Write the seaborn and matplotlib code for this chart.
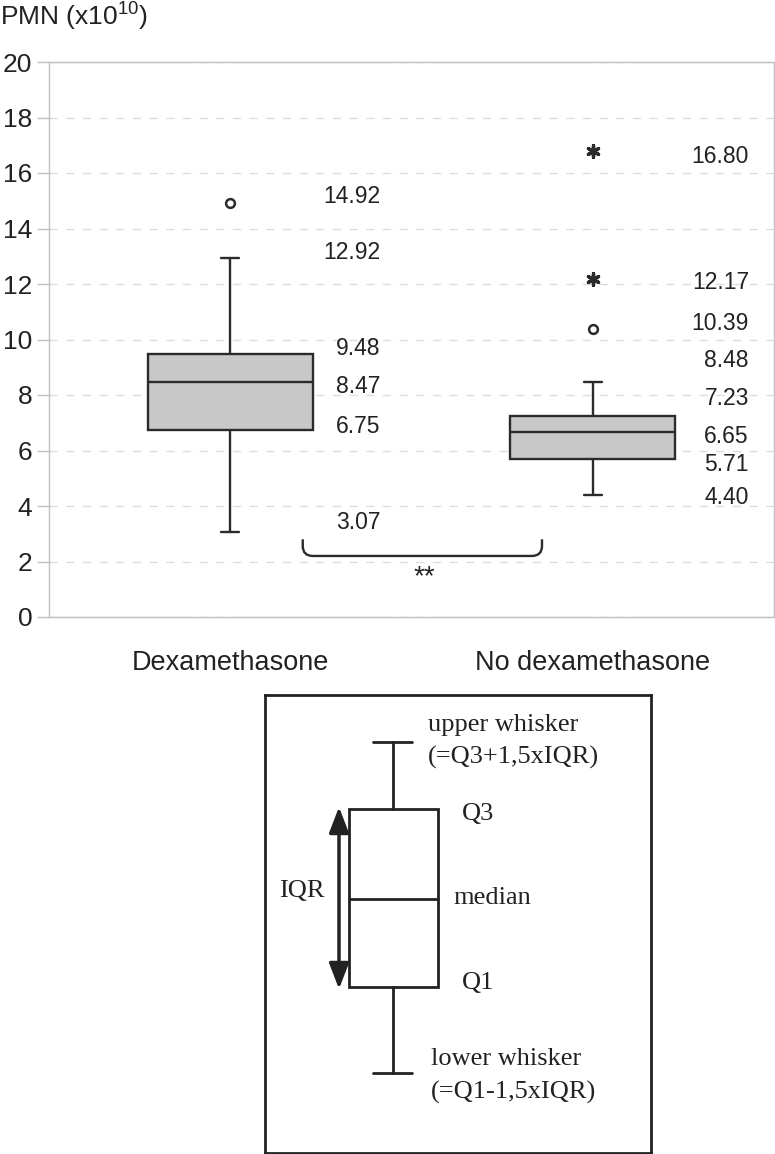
import matplotlib
matplotlib.use('Agg')
import numpy as np
import pandas as pd
import seaborn as sns
from matplotlib import pyplot as plt
from matplotlib.path import Path
from matplotlib.patches import PathPatch, Rectangle

# five-number summaries (whisker low, Q1, median, Q3, whisker high)
categories = ['Dexamethasone', 'No dexamethasone']
dex_summary = [3.07, 6.75, 8.47, 9.48, 12.92]
nodex_summary = [4.40, 5.71, 6.65, 7.23, 8.48]

# outliers (circles) and extremes (stars)
outlier_groups = ['Dexamethasone', 'No dexamethasone']
outlier_values = [14.92, 10.39]
extreme_groups = ['No dexamethasone', 'No dexamethasone']
extreme_values = [12.17, 16.80]

# value labels written beside each box, with the height where they sit
dex_labels = ['14.92', '12.92', '9.48', '8.47', '6.75', '3.07']
dex_label_y = [15.17, 13.12, 9.69, 8.32, 6.88, 3.39]
nodex_labels = ['16.80', '12.17', '10.39', '8.48', '7.23', '6.65', '5.71', '4.40']
nodex_label_y = [16.58, 12.07, 10.56, 9.26, 7.86, 6.52, 5.48, 4.29]

y_ticks = list(range(0, 21, 2))

sns.set_theme(style='white')
plt.rcParams['font.family'] = ['Liberation Sans', 'DejaVu Sans']
plt.rcParams['mathtext.fontset'] = 'custom'
plt.rcParams['mathtext.rm'] = 'Liberation Sans'

fig = plt.figure(figsize=(7.75, 11.54), dpi=100)
W, H = 775, 1154
ax = fig.add_axes([49 / W, 1 - 617 / H, 725 / W, 555 / H])

df = pd.DataFrame({
    'group': [categories[0]] * len(dex_summary) + [categories[1]] * len(nodex_summary),
    'value': dex_summary + nodex_summary,
})
sns.boxplot(data=df, x='group', y='value', order=categories, whis=(0, 100),
            width=0.455, color='#c8c8c8', saturation=1, linecolor='#2b2b2b',
            linewidth=1.7, showfliers=False, capwidths=0.05, ax=ax)

sns.scatterplot(x=[categories.index(g) for g in outlier_groups], y=outlier_values,
                marker='o', s=40, facecolor='white', edgecolor='#2b2b2b',
                linewidth=1.8, ax=ax, zorder=5)
sns.scatterplot(x=[categories.index(g) for g in extreme_groups], y=extreme_values,
                marker=(6, 2, 0), s=70, color='#2b2b2b', linewidth=2.4,
                ax=ax, zorder=5)

for txt, yy in zip(dex_labels, dex_label_y):
    ax.text(0.415, yy, txt, ha='right', va='center', fontsize=16.5, color='#222222')
for txt, yy in zip(nodex_labels, nodex_label_y):
    ax.text(1.431, yy, txt, ha='right', va='center', fontsize=16.5, color='#222222')

# significance bracket
bx0, bx1, btop, bbot = 0.2, 0.86, 2.8, 2.2
verts = [(bx0, btop), (bx0, bbot + 0.36), (bx0, bbot), (bx0 + 0.028, bbot),
         (bx1 - 0.028, bbot), (bx1, bbot), (bx1, bbot + 0.36), (bx1, btop)]
codes = [Path.MOVETO, Path.LINETO, Path.CURVE3, Path.CURVE3,
         Path.LINETO, Path.CURVE3, Path.CURVE3, Path.LINETO]
ax.add_patch(PathPatch(Path(verts, codes), fill=False, edgecolor='#2b2b2b', lw=1.7))
ax.text(0.536, 1.45, '**', ha='center', va='center', fontsize=20, color='#222222')

ax.set_xlim(-0.5, 1.5)
ax.set_ylim(0, 20)
ax.set_yticks(y_ticks)
ax.set_xlabel('')
ax.set_ylabel('')
ax.set_xticks([0, 1])
ax.set_xticklabels(categories, fontsize=19.5, color='#222222')
ax.set_xticks([-0.5, 0.5, 1.5], minor=True)
ax.tick_params(axis='x', which='major', length=0, pad=24)
ax.tick_params(axis='x', which='minor', length=10, width=1, color='#bfbfbf', direction='out')
ax.tick_params(axis='y', length=9, width=1, color='#bfbfbf', direction='out',
               labelsize=19, labelcolor='#222222', pad=3, left=True)
ax.yaxis.grid(True, linestyle=(0, (6, 6)), color='#dddddd', lw=1)
ax.set_axisbelow(True)
for sp in ax.spines.values():
    sp.set_visible(True)
    sp.set_color('#bfbfbf')
    sp.set_linewidth(1)

fig.text(0.0, 1 - 17 / H, 'PMN (x$\\mathregular{10^{10}}$)', ha='left', va='center',
         fontsize=19, color='#222222')

# explanatory panel
lx0, ly0, lw_, lh = 265, 695, 386, 458
lax = fig.add_axes([lx0 / W, 1 - (ly0 + lh) / H, lw_ / W, lh / H])
lax.set_xlim(0, lw_)
lax.set_ylim(lh, 0)
lax.set_xticks([])
lax.set_yticks([])
lax.set_facecolor('white')
for sp in lax.spines.values():
    sp.set_visible(True)
    sp.set_color('#222222')
    sp.set_linewidth(2)

ink = '#222222'
lax.add_patch(Rectangle((84, 114), 89, 178, fill=False, edgecolor=ink, lw=2))
lax.plot([84, 173], [204, 204], color=ink, lw=2)
lax.plot([128, 128], [47, 114], color=ink, lw=2)
lax.plot([128, 128], [292, 378], color=ink, lw=2)
lax.plot([108, 147], [47, 47], color=ink, lw=2)
lax.plot([108, 147], [378, 378], color=ink, lw=2)
lax.annotate('', xy=(74, 112), xytext=(74, 294),
             arrowprops=dict(arrowstyle='<|-|>,head_length=1.3,head_width=0.5',
                             color=ink, lw=2.5, shrinkA=0, shrinkB=0))

serif = ['Liberation Serif', 'DejaVu Serif']
tkw = dict(fontsize=19, color=ink, family=serif, va='center', ha='left')
lax.text(163, 30, 'upper whisker', **tkw)
lax.text(163, 62, '(=Q3+1,5xIQR)', **tkw)
lax.text(197, 119, 'Q3', **tkw)
lax.text(14, 196, 'IQR', **tkw)
lax.text(188, 203, 'median', **tkw)
lax.text(197, 288, 'Q1', **tkw)
lax.text(166, 364, 'lower whisker', **tkw)
lax.text(166, 397, '(=Q1-1,5xIQR)', **tkw)

fig.savefig('out.png', dpi=100)
